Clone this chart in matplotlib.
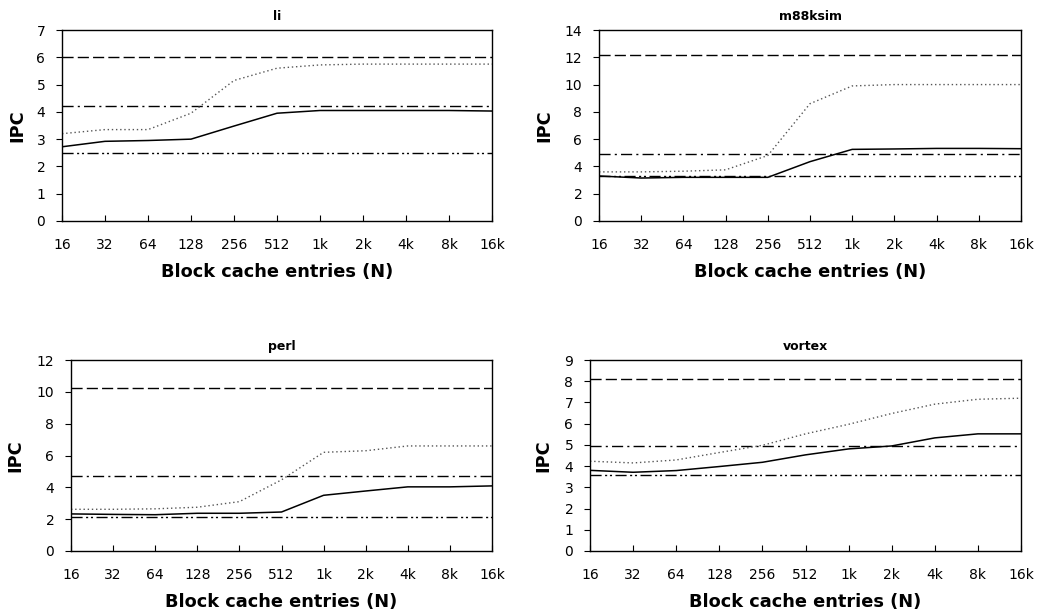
import matplotlib
matplotlib.use("Agg")
import matplotlib.pyplot as plt

plt.rcParams['font.family'] = ['DejaVu Sans']

x_labels = ["16", "32", "64", "128", "256", "512", "1k", "2k", "4k", "8k", "16k"]

titles = ["li", "m88ksim", "perl", "vortex"]
ymax = [7, 14, 12, 9]
ystep = [1, 2, 2, 1]

# measured (solid) and ideal (dotted) IPC curves
li_solid = [2.72, 2.92, 2.95, 3.0, 3.48, 3.95, 4.05, 4.05, 4.05, 4.05, 4.03]
li_dotted = [3.2, 3.35, 3.35, 3.95, 5.15, 5.6, 5.72, 5.75, 5.75, 5.75, 5.75]
m88_solid = [3.3, 3.15, 3.2, 3.2, 3.2, 4.35, 5.25, 5.28, 5.32, 5.32, 5.3]
m88_dotted = [3.6, 3.6, 3.65, 3.75, 4.8, 8.6, 9.9, 10.0, 10.0, 10.0, 10.0]
perl_solid = [2.33, 2.3, 2.28, 2.37, 2.37, 2.45, 3.5, 3.77, 4.03, 4.03, 4.09]
perl_dotted = [2.62, 2.62, 2.65, 2.75, 3.1, 4.47, 6.2, 6.3, 6.6, 6.6, 6.6]
vortex_solid = [3.8, 3.71, 3.79, 3.98, 4.18, 4.53, 4.81, 4.95, 5.33, 5.52, 5.52]
vortex_dotted = [4.23, 4.15, 4.29, 4.64, 4.98, 5.52, 5.97, 6.48, 6.92, 7.15, 7.2]

# horizontal reference levels: dashed, dash-dot, dash-dot-dot
li_ref = [6.0, 4.2, 2.5]
m88_ref = [12.15, 4.9, 3.3]
perl_ref = [10.23, 4.7, 2.12]
vortex_ref = [8.1, 4.95, 3.58]

solids = [li_solid, m88_solid, perl_solid, vortex_solid]
dotteds = [li_dotted, m88_dotted, perl_dotted, vortex_dotted]
refs = [li_ref, m88_ref, perl_ref, vortex_ref]

W, H = 1039, 615
boxes = [  # left, top, right, bottom in pixels
    (62, 30, 492, 221),
    (599, 30, 1021, 221),
    (71, 360, 492, 551),
    (590, 360, 1021, 551),
]
ylabel_x = [19, 546, 17, 545]  # pixel x of y-label centre

ref_styles = [(0, (8, 3)), (0, (8, 3, 1.5, 3)), (0, (8, 2.5, 1.5, 2, 1.5, 2.5))]

fig = plt.figure(figsize=(W / 100, H / 100), dpi=100)
xs = list(range(len(x_labels)))
for i in range(4):
    l, t, r, b = boxes[i]
    ax = fig.add_axes([l / W, 1 - b / H, (r - l) / W, (b - t) / H])
    for lvl, ls in zip(refs[i], ref_styles):
        ax.axhline(lvl, color='black', linestyle=ls, linewidth=1.0)
    ax.plot(xs, dotteds[i], color='#555555', linestyle=(0, (1, 2)), linewidth=1.0)
    ax.plot(xs, solids[i], color='black', linestyle='-', linewidth=1.1)
    ax.set_xlim(0, len(x_labels) - 1)
    ax.set_ylim(0, ymax[i])
    ax.set_xticks(xs)
    ax.set_xticklabels(x_labels)
    ax.set_yticks(range(0, ymax[i] + 1, ystep[i]))
    ax.tick_params(axis='x', direction='in', length=4, labelsize=10, pad=12)
    ax.tick_params(axis='y', direction='out', length=4, labelsize=10, pad=8)
    ax.set_title(titles[i], fontsize=9, fontweight='bold', pad=7)
    ax.set_xlabel("Block cache entries (N)", fontsize=12.8, fontweight='bold', labelpad=8)
    ax.set_ylabel("IPC", fontsize=12.8, fontweight='bold')
    ax.yaxis.set_label_coords(-(l - ylabel_x[i] - 7) / (r - l), 0.5)
    for s in ax.spines.values():
        s.set_linewidth(1.0)

fig.savefig("out.png", dpi=100)
